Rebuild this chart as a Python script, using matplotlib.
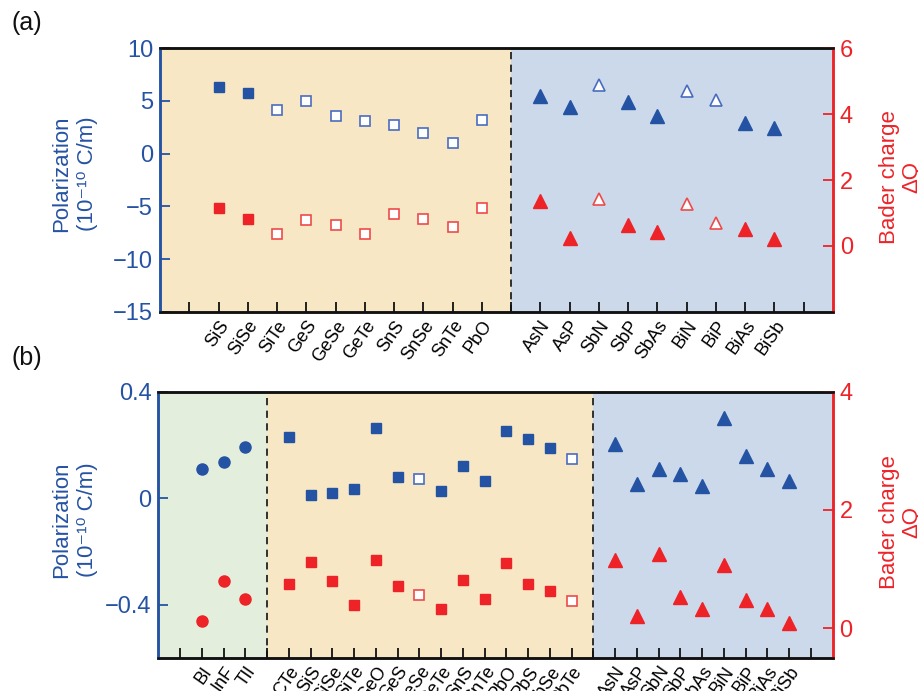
import matplotlib
matplotlib.use("Agg")
import matplotlib.pyplot as plt

plt.rcParams['font.family'] = ['Liberation Sans', 'DejaVu Sans']

# ---------------- data: panel (a) ----------------
a_sq_labels = ['SiS', 'SiSe', 'SiTe', 'GeS', 'GeSe', 'GeTe', 'SnS', 'SnSe', 'SnTe', 'PbO']
a_sq_pol = [6.34, 5.71, 4.13, 4.98, 3.56, 3.12, 2.74, 1.98, 0.97, 3.21]
a_sq_bader = [1.16, 0.81, 0.35, 0.80, 0.63, 0.36, 0.96, 0.81, 0.59, 1.15]
a_sq_filled = [True, True, False, False, False, False, False, False, False, False]

a_tri_labels = ['AsN', 'AsP', 'SbN', 'SbP', 'SbAs', 'BiN', 'BiP', 'BiAs', 'BiSb']
a_tri_pol = [5.43, 4.41, 6.50, 4.92, 3.56, 5.90, 5.04, 2.87, 2.45]
a_tri_bader = [1.35, 0.25, 1.41, 0.64, 0.41, 1.26, 0.71, 0.51, 0.20]
a_tri_filled = [True, True, False, True, True, False, False, True, True]

# ---------------- data: panel (b) ----------------
b_ci_labels = ['BI', 'InF', 'TlI']
b_ci_pol = [0.111, 0.137, 0.192]
b_ci_bader = [0.125, 0.79, 0.49]
b_ci_filled = [True, True, True]

b_sq_labels = ['CTe', 'SiS', 'SiSe', 'SiTe', 'GeO', 'GeS', 'GeSe', 'GeTe',
               'SnS', 'SnTe', 'PbO', 'PbS', 'PbSe', 'PbTe']
b_sq_pol = [0.231, 0.011, 0.020, 0.033, 0.263, 0.080, 0.070, 0.028,
            0.121, 0.064, 0.251, 0.221, 0.188, 0.146]
b_sq_bader = [0.75, 1.12, 0.80, 0.40, 1.15, 0.71, 0.56, 0.33,
              0.82, 0.50, 1.10, 0.75, 0.63, 0.46]
b_sq_filled = [True, True, True, True, True, True, False, True,
               True, True, True, True, True, False]

b_tri_labels = ['AsN', 'AsP', 'SbN', 'SbP', 'SbAs', 'BiN', 'BiP', 'BiAs', 'BiSb']
b_tri_pol = [0.205, 0.054, 0.111, 0.090, 0.047, 0.301, 0.158, 0.111, 0.063]
b_tri_bader = [1.15, 0.20, 1.26, 0.52, 0.33, 1.06, 0.47, 0.33, 0.09]
b_tri_filled = [True] * 9

BLUE = '#2553A3'
RED = '#ED2328'
BG_TAN = '#F8E7C5'
BG_BLUE = '#CCD9EB'
BG_GREEN = '#E3EEDC'

fig = plt.figure(figsize=(9.18, 6.91), dpi=100)


def draw_panel(rect, groups, bgs, ylim_l, yticks_l, yticklabels_l, ylim_r, yticks_r,
               ylab_y, rlab_y):
    ax = fig.add_axes(rect)
    ax2 = ax.twinx()
    # layout positions: one empty slot at each end, a divider slot between groups
    pos = 1
    spans = []
    all_ticks = [1]
    all_labels = ['']
    start = 0
    for gi, g in enumerate(groups):
        n = len(g['labels'])
        xs = [pos + 1 + i for i in range(n)]
        g['x'] = xs
        all_ticks += xs
        all_labels += g['labels']
        pos = pos + n + 1
        all_ticks.append(pos)
        all_labels.append('')
        end = pos if gi < len(groups) - 1 else pos + 1
        spans.append((start, end))
        start = pos
    xmax = pos + 1
    for (s, e), c in zip(spans, bgs):
        ax.axvspan(s, e, color=c, lw=0, zorder=0)
    for (s, e) in spans[:-1]:
        ax.axvline(e, color='#222222', lw=1.3, ls=(0, (4, 3)), zorder=1)

    for g in groups:
        for x, p, q, f in zip(g['x'], g['pol'], g['bader'], g['filled']):
            ms = g['ms']
            if f:
                ax.plot(x, p, g['marker'], color=BLUE, ms=ms, mec=BLUE, zorder=3)
                ax2.plot(x, q, g['marker'], color=RED, ms=ms, mec=RED, zorder=3)
            else:
                ax.plot(x, p, g['marker'], mfc='white', mec='#4A6CC0', mew=1.2, ms=ms - 0.5, zorder=3)
                ax2.plot(x, q, g['marker'], mfc='white', mec='#EE4A4A', mew=1.2, ms=ms - 0.5, zorder=3)

    ax.set_xlim(0, xmax)
    ax.set_xticks(all_ticks)
    ax.set_xticklabels(all_labels, rotation=55, ha='right', rotation_mode='anchor', fontsize=13)
    ax.set_ylim(*ylim_l)
    ax.set_yticks(yticks_l)
    ax.set_yticklabels(yticklabels_l)
    ax2.set_ylim(*ylim_r)
    ax2.set_yticks(yticks_r)

    ax.tick_params(axis='x', direction='in', length=7, width=1.3, color='#111111', pad=4)
    ax.tick_params(axis='y', direction='in', length=7, width=1.3, color=BLUE, labelcolor=BLUE,
                   labelsize=17, pad=5)
    ax2.tick_params(axis='y', direction='in', length=7, width=1.3, color=RED, labelcolor=RED,
                    labelsize=17, pad=5)
    for a in (ax, ax2):
        a.spines['top'].set_color('#111111')
        a.spines['bottom'].set_color('#111111')
        a.spines['left'].set_color(BLUE)
        a.spines['right'].set_color(RED)
        for s in a.spines.values():
            s.set_linewidth(1.8)
    fig.text(0.0817, ylab_y, 'Polarization\n(10\u207b\u00b9\u2070 C/m)', color=BLUE, fontsize=16,
             linespacing=1.3, rotation=90, ha='center', va='center', multialignment='center')
    fig.text(0.981, rlab_y, 'Bader charge\n\u0394Q', color=RED, fontsize=16,
             linespacing=1.1, rotation=90, ha='center', va='center', multialignment='center')
    return ax, ax2


groups_a = [
    dict(labels=a_sq_labels, pol=a_sq_pol, bader=a_sq_bader, filled=a_sq_filled, marker='s', ms=7.5),
    dict(labels=a_tri_labels, pol=a_tri_pol, bader=a_tri_bader, filled=a_tri_filled, marker='^', ms=9.5),
]
draw_panel([0.1743, 0.5485, 0.7331, 0.382], groups_a, [BG_TAN, BG_BLUE],
           (-15, 10), [-15, -10, -5, 0, 5, 10], ['\u221215', '\u221210', '\u22125', '0', '5', '10'],
           (-2, 6), [0, 2, 4, 6], 0.748, 0.744)

groups_b = [
    dict(labels=b_ci_labels, pol=b_ci_pol, bader=b_ci_bader, filled=b_ci_filled, marker='o', ms=8),
    dict(labels=b_sq_labels, pol=b_sq_pol, bader=b_sq_bader, filled=b_sq_filled, marker='s', ms=7.5),
    dict(labels=b_tri_labels, pol=b_tri_pol, bader=b_tri_bader, filled=b_tri_filled, marker='^', ms=9.5),
]
draw_panel([0.1725, 0.0482, 0.7345, 0.3849], groups_b, [BG_GREEN, BG_TAN, BG_BLUE],
           (-0.6, 0.4), [-0.4, 0, 0.4], ['\u22120.4', '0', '0.4'],
           (-0.5, 4), [0, 2, 4], 0.2475, 0.244)

fig.text(0.012, 0.967, '(a)', fontsize=18, color='#111111', va='center', ha='left')
fig.text(0.012, 0.482, '(b)', fontsize=18, color='#111111', va='center', ha='left')

fig.savefig('out.png', dpi=100)
